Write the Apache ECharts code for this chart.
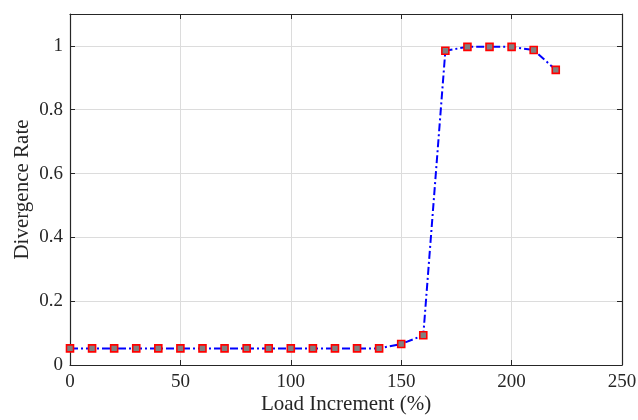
<!DOCTYPE html>
<html>
<head>
<meta charset="utf-8">
<script src="https://cdn.jsdelivr.net/npm/echarts@6/dist/echarts.min.js"></script>
<style>
  html, body { margin: 0; padding: 0; background: #fff; }
  #main { width: 638px; height: 420px; }
</style>
</head>
<body>
<div id="main"></div>
<script>
// 数据
const loadIncrement = [0, 10, 20, 30, 40, 50, 60, 70, 80, 90, 100, 110, 120, 130, 140, 150, 160, 170, 180, 190, 200, 210, 220];
const divergenceRate = [0.052, 0.052, 0.052, 0.052, 0.052, 0.052, 0.052, 0.052, 0.052, 0.052, 0.052, 0.052, 0.052, 0.052, 0.052, 0.066, 0.093, 0.985, 0.997, 0.997, 0.997, 0.987, 0.925];
const xTicks = [0, 50, 100, 150, 200, 250];
const yTicks = [0, 0.2, 0.4, 0.6, 0.8, 1];

const chart = echarts.init(document.getElementById('main'));
const font = 'Liberation Serif, Times New Roman, serif';
const ink = '#262626';

const option = {
  backgroundColor: '#fff',
  animation: false,
  grid: { left: 70, right: 16, top: 14, bottom: 55, outerBoundsMode: 'none', containLabel: false },
  xAxis: [
    {
      type: 'value',
      min: xTicks[0],
      max: xTicks[xTicks.length - 1],
      interval: 50,
      name: 'Load Increment (%)',
      nameLocation: 'middle',
      nameGap: 29,
      nameMoveOverlap: false,
      nameTextStyle: { fontFamily: font, fontSize: 21, color: ink },
      axisLine: { onZero: false, lineStyle: { color: ink, width: 1.2 } },
      axisTick: { inside: true, length: 5, lineStyle: { color: ink } },
      axisLabel: { fontFamily: font, fontSize: 19, color: ink, margin: 8 },
      splitLine: { show: true, lineStyle: { color: '#dcdcdc', width: 1 } }
    },
    {
      type: 'value',
      position: 'top',
      min: xTicks[0],
      max: xTicks[xTicks.length - 1],
      interval: 50,
      axisLine: { onZero: false, lineStyle: { color: ink, width: 1.2 } },
      axisTick: { inside: true, length: 5, lineStyle: { color: ink } },
      axisLabel: { show: false },
      splitLine: { show: false }
    }
  ],
  yAxis: [
    {
      type: 'value',
      min: 0,
      max: 1.1,
      interval: 0.2,
      name: 'Divergence Rate',
      nameLocation: 'middle',
      nameGap: 37,
      nameMoveOverlap: false,
      nameTextStyle: { fontFamily: font, fontSize: 21, color: ink },
      axisLine: { show: true, onZero: false, lineStyle: { color: ink, width: 1.2 } },
      axisTick: { show: true, inside: true, length: 5, lineStyle: { color: ink } },
      axisLabel: {
        fontFamily: font, fontSize: 19, color: ink, margin: 7,
        showMaxLabel: false,
        formatter: function (v) {
          return yTicks.some(t => Math.abs(t - v) < 1e-6) ? String(+v.toFixed(1)) : '';
        }
      },
      splitLine: { show: true, lineStyle: { color: '#dcdcdc', width: 1 } }
    },
    {
      type: 'value',
      position: 'right',
      min: 0,
      max: 1.1,
      interval: 0.2,
      axisLine: { show: true, onZero: false, lineStyle: { color: ink, width: 1.2 } },
      axisTick: { show: true, inside: true, length: 5, lineStyle: { color: ink } },
      axisLabel: { show: false },
      splitLine: { show: false }
    }
  ],
  series: [
    {
      type: 'line',
      data: loadIncrement.map((x, i) => [x, divergenceRate[i]]),
      symbol: 'rect',
      symbolSize: 7,
      lineStyle: { color: '#0000ff', width: 2, type: [8, 3, 2, 3] },
      itemStyle: { color: '#808080', borderColor: '#ff0000', borderWidth: 1.6 }
    }
  ]
};

chart.setOption(option);
</script>
</body>
</html>
